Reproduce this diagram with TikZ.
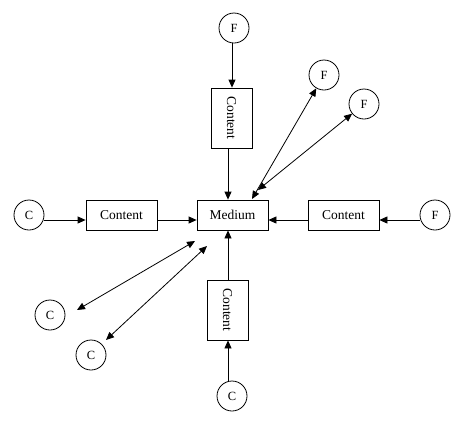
\documentclass[tikz,border=0pt]{standalone}
\usepackage{fontspec}
\setmainfont{Liberation Serif}
\usetikzlibrary{arrows.meta}
\begin{document}
\begin{tikzpicture}[x=1pt,y=-1pt,
  box/.style={draw, line width=0.8pt, rectangle, minimum width=71pt, minimum height=30pt, inner sep=0pt, font=\fontsize{13.5}{14}\selectfont},
  vbox/.style={draw, line width=0.8pt, rectangle, minimum width=41pt, minimum height=60pt, inner sep=0pt, font=\fontsize{13.5}{14}\selectfont},
  circ/.style={draw, line width=0.8pt, circle, minimum size=30pt, inner sep=0pt, font=\fontsize{12.5}{13}\selectfont},
  arr/.style={line width=0.8pt, -{Triangle[length=8pt,width=7pt]}},
  darr/.style={line width=0.8pt, {Triangle[length=8pt,width=7pt]}-{Triangle[length=8pt,width=7pt]}}]
\useasboundingbox (0,0) rectangle (474,424);
\node[box] (med) at (232.5,215) {Medium};
\node[box] (lc) at (121.5,215) {Content};
\node[box] (rc) at (343.5,215) {Content};
\node[vbox] (tc) at (231.5,118) {\rotatebox{-90}{Content}};
\node[vbox] (bc) at (227.5,310) {\rotatebox{-90}{Content}};
\node[circ] (ft) at (234,28) {F};
\node[circ] (f1) at (324,75) {F};
\node[circ] (f2) at (364,104) {F};
\node[circ] (fr) at (435,215) {F};
\node[circ] (cl) at (29,215) {C};
\node[circ] (c1) at (50,315) {C};
\node[circ] (c2) at (91,355) {C};
\node[circ] (cb) at (232,396) {C};
\coordinate (c1e) at (77,310);
\coordinate (c2e) at (106,340);
\coordinate (m1) at (195,241);
\coordinate (m2) at (207,246);
\coordinate (mf1) at (252,199);
\coordinate (mf2) at (258,190);
\draw[arr] (ft.south -| 232,0) -- (tc.north -| 232,0);
\draw[arr] (tc.south -| 228,0) -- (med.north -| 228,0);
\draw[arr] (cl.east |- 0,220) -- (lc.west |- 0,220);
\draw[arr] (lc.east |- 0,220) -- (med.west |- 0,220);
\draw[arr] (fr.west |- 0,220) -- (rc.east |- 0,220);
\draw[arr] (rc.west |- 0,220) -- (med.east |- 0,220);
\draw[arr] (cb.north -| 228,0) -- (bc.south -| 228,0);
\draw[arr] (bc.north -| 228,0) -- (med.south -| 228,0);
\draw[darr] (mf1) -- (f1);
\draw[darr] (mf2) -- (f2);
\draw[darr] (m1) -- (c1e);
\draw[darr] (m2) -- (c2e);
\end{tikzpicture}
\end{document}
